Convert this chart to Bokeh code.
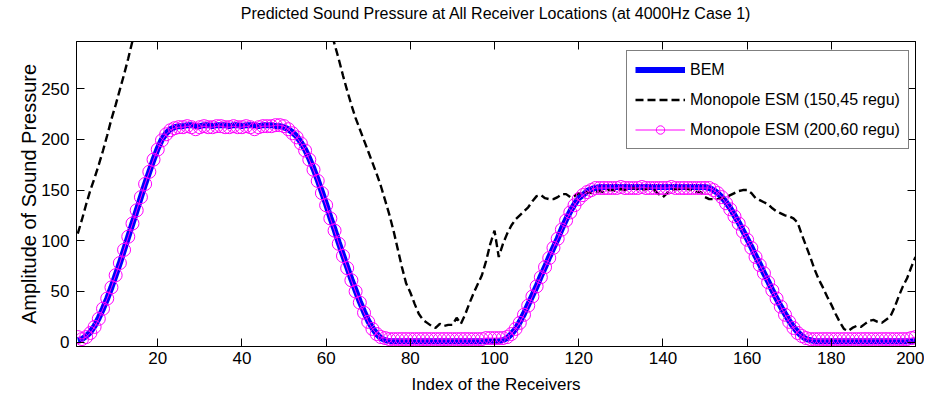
from bokeh.plotting import figure
from bokeh.models import Range1d, LinearAxis, Legend, LegendItem, FixedTicker
from bokeh.embed import file_html
from bokeh.resources import INLINE

FONT = "Liberation Sans"

receivers = list(range(1, 201))

bem = [2, 3, 6, 10, 16, 24, 33, 43, 54, 66, 78, 91, 104, 117, 130, 143, 156, 168, 180, 191, 200, 206, 210, 212, 213,
       213, 214, 214, 213, 213, 214, 214, 213, 214, 214, 214, 213, 214, 214, 213, 214, 214, 214, 213, 214, 214, 214, 213, 213,
       212, 210, 207, 203, 197, 190, 181, 171, 160, 148, 136, 123, 111, 98, 86, 74, 62, 51, 40, 30, 21, 14, 8, 4, 2, 1,
       1, 1, 1, 1, 1, 1, 1, 1, 1, 1, 1, 1, 1, 1, 1, 1, 1, 1, 1, 1, 1, 1, 1, 1, 1,
       1, 2, 4, 8, 13, 20, 28, 37, 46, 55, 65, 74, 84, 93, 102, 112, 121, 129, 136, 142, 145, 149, 151, 152, 153,
       153, 153, 153, 153, 153, 153, 153, 153, 153, 153, 153, 153, 153, 153, 153, 153, 153, 153, 153, 153, 153, 153, 153, 153, 153,
       152, 150, 147, 143, 138, 132, 125, 118, 110, 102, 94, 85, 77, 68, 60, 51, 43, 35, 28, 21, 15, 10, 6, 3, 2, 1,
       1, 1, 1, 1, 1, 1, 1, 1, 1, 1, 1, 1, 1, 1, 1, 1, 1, 1, 1, 1, 1, 1, 1, 1]

esm_150_45 = [107, 121, 136, 150, 162, 175, 189, 204, 220, 234, 249, 264, 280, 297, 313,
              328, 343, 357, 370, 382, 393, 403, 412, 420, 427,
              433, 438, 442, 446, 449, 452, 454, 456, 457, 458,
              459, 459, 459, 459, 459, 459, 459, 458, 457, 456,
              454, 451, 447, 442, 436, 428, 419, 409, 398, 386,
              372, 358, 345, 332, 320, 308,
              294, 279, 263, 248, 234, 221, 210, 199, 188, 177, 166, 154, 140, 126, 110, 92, 74, 58, 49,
              38, 28, 22, 19, 16, 14, 18, 16, 17, 17, 24, 18, 27, 38, 48, 57, 66, 80, 97, 110,
              84, 97, 107, 115, 121, 125, 129, 133, 139, 144, 145, 142, 141, 141, 143, 146, 146, 143, 144, 147,
              146, 148, 147, 148, 149, 148, 150, 150, 149, 151, 150, 151, 152, 151, 150, 151, 152, 150, 146, 143,
              147, 150, 151, 151, 152, 151, 150, 148, 148, 143, 141, 141, 141, 142, 143, 145, 147, 149, 150, 150,
              147, 142, 140, 138, 136, 132, 129, 127, 125, 124, 122, 118, 106, 95, 84, 72, 62, 54, 45, 37,
              28, 20, 13, 11, 14, 16, 15, 18, 21, 22, 20, 19, 22, 25, 34, 45, 55, 63, 74, 84]

esm_200_60 = [5, 3, 5, 9, 15, 23, 33, 43, 54, 66, 78, 91, 104, 117, 130, 143, 156, 168, 180, 190, 199, 205, 209, 211, 212,
              212, 213, 212, 210, 212, 213, 212, 212, 213, 213, 212, 212, 213, 212, 212, 213, 212, 210, 212, 213, 213, 213, 214, 214,
              213, 210, 206, 202, 196, 189, 180, 170, 159, 147, 135, 122, 110, 97, 85, 73, 61, 50, 39, 29, 20, 13, 8, 5, 4, 3,
              3, 3, 3, 3, 3, 3, 3, 3, 3, 3, 3, 3, 3, 3, 3, 3, 3, 3, 3, 3, 3, 3, 4, 4, 4,
              4, 4, 5, 8, 13, 19, 27, 36, 45, 55, 64, 74, 83, 93, 102, 111, 120, 128, 135, 141, 145, 148, 150, 152, 152,
              152, 152, 152, 152, 153, 152, 152, 152, 152, 153, 152, 152, 152, 152, 152, 152, 153, 152, 152, 152, 152, 152, 152, 152, 152,
              152, 150, 147, 143, 137, 131, 124, 117, 109, 101, 93, 84, 76, 68, 59, 51, 43, 35, 27, 20, 14, 9, 6, 4, 3, 3,
              3, 3, 3, 3, 3, 3, 3, 3, 3, 3, 3, 3, 3, 3, 3, 3, 3, 3, 3, 3, 3, 3, 4, 5]

x_ticks = [20, 40, 60, 80, 100, 120, 140, 160, 180, 200]
y_ticks = [0, 50, 100, 150, 200, 250]
title_text = "Predicted Sound Pressure at All Receiver Locations (at 4000Hz Case 1)"

p = figure(frame_width=839, frame_height=305, output_backend="svg", toolbar_location=None,
           x_range=Range1d(0.7, 200), y_range=Range1d(-4.3, 296.5),
           min_border_left=76, min_border_right=9, min_border_top=41, min_border_bottom=40,
           background_fill_color="white", border_fill_color="white", title=None)

p.grid.visible = False
p.outline_line_color = "black"
p.outline_line_width = 1

for ax in (p.xaxis[0], p.yaxis[0]):
    ax.major_tick_in = 8
    ax.major_tick_out = 0
    ax.minor_tick_line_color = None
    ax.axis_line_color = "black"
    ax.major_tick_line_color = "black"
    ax.major_label_text_font = FONT
    ax.major_label_text_font_size = "17px"
    ax.major_label_text_color = "black"
    ax.axis_label_text_font = FONT
    ax.axis_label_text_font_size = "17px"
    ax.axis_label_text_font_style = "normal"
    ax.axis_label_text_color = "black"

p.xaxis.ticker = FixedTicker(ticks=x_ticks)
p.yaxis.ticker = FixedTicker(ticks=y_ticks)
p.xaxis.axis_label = "Index of the Receivers"
p.yaxis.axis_label = "Amplitude of Sound Pressure"
p.yaxis.axis_label_text_font_size = "20px"
p.xaxis.major_label_standoff = 5
p.yaxis.major_label_standoff = 7
p.xaxis.axis_label_standoff = 8
p.yaxis.axis_label_standoff = -2

# top axis carries the inward ticks and the chart title
top = LinearAxis(ticker=FixedTicker(ticks=x_ticks), major_tick_in=8, major_tick_out=0,
                 minor_tick_line_color=None, major_label_standoff=0,
                 major_label_overrides={t: "" for t in x_ticks},
                 axis_label=title_text, axis_label_standoff=20,
                 axis_label_text_font=FONT, axis_label_text_font_size="16px",
                 axis_label_text_font_style="normal", axis_label_text_color="black")
right = LinearAxis(ticker=FixedTicker(ticks=y_ticks), major_tick_in=8, major_tick_out=0,
                   minor_tick_line_color=None, major_label_standoff=0,
                   major_label_overrides={t: "" for t in y_ticks})
p.add_layout(top, "above")
p.add_layout(right, "right")

r_bem = p.line(receivers, bem, line_color="#0000FF", line_width=6)
r_dash = p.line(receivers, esm_150_45, line_color="black", line_width=2.4, line_dash="8 4")
r_esm_line = p.line(receivers, esm_200_60, line_color="#FF00FF", line_width=1)
r_esm_pts = p.scatter(receivers, esm_200_60, marker="circle", size=13, fill_color=None,
                      line_color="#FF00FF", line_width=1)

legend = Legend(items=[
    LegendItem(label="BEM", renderers=[r_bem]),
    LegendItem(label="Monopole ESM (150,45 regu)", renderers=[r_dash]),
    LegendItem(label="Monopole ESM (200,60 regu)", renderers=[r_esm_line, r_esm_pts]),
], location=(550, 197))
legend.border_line_color = "black"
legend.border_line_width = 1
legend.background_fill_color = "white"
legend.background_fill_alpha = 1
legend.label_text_font = FONT
legend.label_text_font_size = "16px"
legend.label_text_color = "black"
legend.glyph_width = 50
legend.glyph_height = 21
legend.label_height = 21
legend.spacing = 9
legend.padding = 8
legend.margin = 0
legend.label_standoff = 5
p.add_layout(legend, "center")

open("out.html", "w").write(file_html(p, INLINE))
